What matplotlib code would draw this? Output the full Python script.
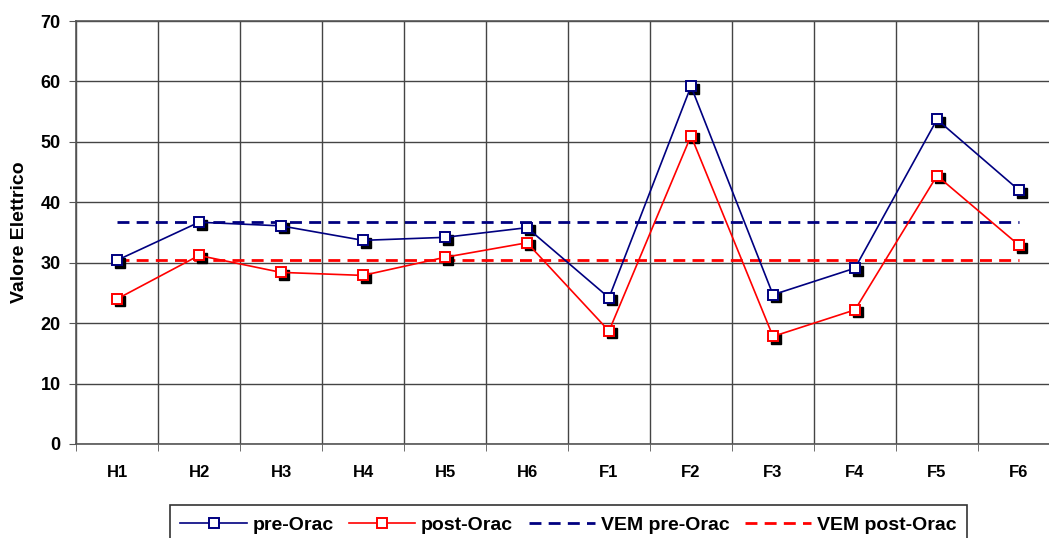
import matplotlib.pyplot as plt
import matplotlib.transforms as mtransforms
import numpy as np

plt.rcParams["font.family"] = ["Liberation Sans", "DejaVu Sans"]

categories = ["H1", "H2", "H3", "H4", "H5", "H6", "F1", "F2", "F3", "F4", "F5", "F6"]
pre_orac = [30.4, 36.7, 36.1, 33.7, 34.2, 35.8, 24.2, 59.2, 24.7, 29.1, 53.7, 42.0]
post_orac = [24.0, 31.2, 28.4, 27.9, 30.9, 33.3, 18.7, 51.0, 17.8, 22.2, 44.4, 32.9]
vem_pre = 36.8
vem_post = 30.5

NAVY = "#000080"
RED = "#FF0000"
DASH = (0, (4.3, 2.6))

fig = plt.figure(figsize=(10.49, 5.38), dpi=100)
W, H = 1049, 538
ax = fig.add_axes([76 / W, (H - 444) / H, 984 / W, (444 - 21) / H])

x = np.arange(len(categories))
shadow = mtransforms.offset_copy(ax.transData, fig=fig, x=2.5, y=-2.5, units="dots")

ax.plot(x, [vem_pre] * len(x), color=NAVY, lw=2, ls=DASH, label="VEM pre-Orac", zorder=3)
ax.plot(x, [vem_post] * len(x), color=RED, lw=2, ls=DASH, label="VEM post-Orac", zorder=3)

for vals, col, lab in [(pre_orac, NAVY, "pre-Orac"), (post_orac, RED, "post-Orac")]:
    ax.plot(x, vals, ls="none", marker="s", ms=7, color="black", transform=shadow, zorder=4)
    ax.plot(x, vals, color=col, lw=1.2, marker="s", ms=7, mfc="white", mec=col, mew=1.4,
            label=lab, zorder=5)

ax.set_xlim(-0.5, len(categories) - 0.5)
ax.set_ylim(0, 70)
ax.set_yticks(range(0, 71, 10))
ax.set_xticks(x)
ax.set_xticklabels(categories)
ax.set_xticks(np.arange(-0.5, len(categories)), minor=True)
ax.tick_params(axis="x", which="major", length=0, pad=15, labelsize=12)
ax.tick_params(axis="x", which="minor", length=5, direction="out", color="#555555")
ax.tick_params(axis="y", length=5, direction="out", color="#555555", pad=6, labelsize=13)
for lbl in ax.get_xticklabels() + ax.get_yticklabels():
    lbl.set_fontweight("bold")

ax.grid(True, axis="y", color="#444444", lw=1)
ax.grid(True, axis="x", which="minor", color="#444444", lw=1)
ax.set_axisbelow(True)
for s in ax.spines.values():
    s.set_color("#555555")
    s.set_linewidth(1.2)

ax.set_ylabel("Valore Elettrico", fontsize=14, fontweight="bold", labelpad=9)

handles, labels = ax.get_legend_handles_labels()
order = [labels.index(k) for k in ["pre-Orac", "post-Orac", "VEM pre-Orac", "VEM post-Orac"]]
leg = fig.legend([handles[i] for i in order], [labels[i] for i in order], loc="lower center",
                 bbox_to_anchor=(0.542, -0.03), ncol=4, fancybox=False, framealpha=1,
                 edgecolor="#333333", prop={"weight": "bold", "size": 14}, handlelength=3.4,
                 columnspacing=0.8, handletextpad=0.3, borderpad=0.55)
leg.get_frame().set_linewidth(1.2)
for h in leg.legend_handles:
    if h.get_marker() == "s":
        h.set_markersize(7)
    else:
        h.set_linestyle((0, (4.3, 2.6)))

fig.savefig("out.png", dpi=100)
